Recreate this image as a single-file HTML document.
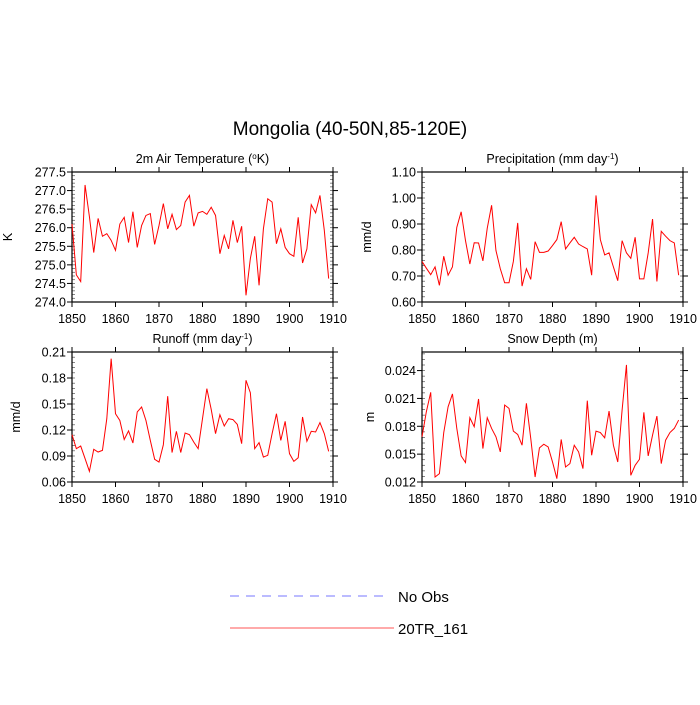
<!DOCTYPE html>
<html><head><meta charset="utf-8"><style>
body{margin:0;background:#fff;}
svg text{font-family:"Liberation Sans",Arial,sans-serif;fill:#000;}
</style></head><body>
<svg id="chart" width="700" height="700" viewBox="0 0 700 700" xmlns="http://www.w3.org/2000/svg">
<rect width="700" height="700" fill="#fff"/>
<text x="350" y="135" font-size="19" text-anchor="middle">Mongolia (40-50N,85-120E)</text>
<g id="panels"></g>
<g>
<line x1="230" y1="596" x2="386" y2="596" stroke="#7777ff" stroke-width="1" stroke-dasharray="9,7"/>
<text x="398" y="602" font-size="15">No Obs</text>
<line x1="230" y1="628" x2="394" y2="628" stroke="#ff5555" stroke-width="1"/>
<text x="398" y="634" font-size="15">20TR_161</text>
</g>
</svg>
<script>
const years = [];
for (let y = 1850; y <= 1909; y++) years.push(y);
const xTicks = [1850,1860,1870,1880,1890,1900,1910];
const tempValues = [276.1,274.73,274.55,277.15,276.3,275.33,276.25,275.77,275.84,275.66,275.39,276.1,276.28,275.6,276.43,275.47,276.06,276.33,276.38,275.55,276.06,276.65,275.97,276.36,275.95,276.06,276.69,276.87,276.04,276.4,276.44,276.36,276.55,276.33,275.3,275.79,275.43,276.2,275.6,276.04,274.18,275.17,275.77,274.45,275.97,276.78,276.69,275.57,275.97,275.47,275.3,275.23,276.28,275.05,275.43,276.62,276.4,276.87,275.93,274.63];
const precipValues = [0.756,0.73,0.705,0.735,0.664,0.776,0.703,0.735,0.887,0.947,0.836,0.746,0.828,0.827,0.758,0.884,0.972,0.798,0.728,0.674,0.674,0.756,0.904,0.661,0.728,0.687,0.832,0.791,0.791,0.796,0.817,0.84,0.909,0.804,0.827,0.849,0.823,0.813,0.804,0.703,1.01,0.84,0.781,0.789,0.735,0.682,0.836,0.789,0.768,0.849,0.689,0.689,0.789,0.919,0.679,0.872,0.853,0.836,0.827,0.703];
const runoffValues = [0.1146,0.0985,0.1015,0.087,0.0723,0.0977,0.0946,0.0965,0.133,0.2023,0.1388,0.131,0.109,0.119,0.105,0.1408,0.1465,0.131,0.108,0.0862,0.083,0.103,0.159,0.094,0.1185,0.094,0.1165,0.1146,0.106,0.0985,0.133,0.1677,0.1438,0.1158,0.1377,0.1246,0.133,0.132,0.1265,0.1042,0.1773,0.163,0.0985,0.1054,0.0888,0.0908,0.1158,0.1388,0.108,0.13,0.0927,0.0838,0.088,0.135,0.107,0.1185,0.1177,0.1285,0.1158,0.0954];
const snowValues = [0.01687,0.01957,0.02166,0.01254,0.0129,0.01733,0.0201,0.02148,0.01777,0.01481,0.01409,0.01892,0.01795,0.02094,0.0156,0.01892,0.01777,0.01687,0.01524,0.02029,0.01993,0.01748,0.01712,0.01596,0.02047,0.01669,0.01254,0.01568,0.01607,0.01578,0.01416,0.01236,0.01658,0.01362,0.01398,0.01596,0.01524,0.01344,0.02076,0.01488,0.01748,0.01733,0.01676,0.01964,0.01596,0.01416,0.01975,0.02461,0.01272,0.0138,0.01445,0.0195,0.01481,0.01705,0.0191,0.01398,0.0165,0.01733,0.01777,0.01867];
const tempTicks = ["274.0","274.5","275.0","275.5","276.0","276.5","277.0","277.5"];
const precipTicks = ["0.60","0.70","0.80","0.90","1.00","1.10"];
const runoffTicks = ["0.06","0.09","0.12","0.15","0.18","0.21"];
const snowTicks = ["0.012","0.015","0.018","0.021","0.024"];

const NS = "http://www.w3.org/2000/svg";
const root = document.getElementById('panels');
function mk(tag, attrs, parent){const e=document.createElementNS(NS,tag);for(const k in attrs)e.setAttribute(k,attrs[k]);parent.appendChild(e);return e;}

function panel(cfg){
  const g = mk('g',{},root);
  
  
  const L=cfg.x0,R=cfg.x1,T=cfg.y0,B=cfg.y1;
  const xs = v => L + (v-1850)/(1910-1850)*(R-L);
  const ys = v => B - (v-cfg.ymin)/(cfg.ymax-cfg.ymin)*(B-T);
  // title
  const t = mk('text',{x:(L+R)/2,y:T-9,'font-size':12.5,'text-anchor':'middle'},g);
  
  
  t.innerHTML = cfg.title;
  // y axis title
  const yt = mk('text',{x:0,y:0,'font-size':12.5,'text-anchor':'middle',transform:`translate(${cfg.ytx},${(T+B)/2}) rotate(-90)`},g);
  
  
  yt.textContent = cfg.ytitle;
  // y ticks
  const step = (cfg.ticks.length>1)? (parseFloat(cfg.ticks[1])-parseFloat(cfg.ticks[0])):1;
  cfg.ticks.forEach(lbl=>{
    const v=parseFloat(lbl), y=ys(v);
    mk('line',{x1:L-5,y1:y,x2:L,y2:y,stroke:'#000'},g);
    mk('line',{x1:R,y1:y,x2:R+5,y2:y,stroke:'#000'},g);
    const tx = mk('text',{x:L-6,y:y+4.5,'font-size':12.5,'text-anchor':'end'},g);
    
    
    tx.textContent = lbl;
  });
  const minor = step/5;
  for(let v=cfg.ymin; v<=cfg.ymax+1e-9; v+=minor){
    const y=ys(v);
    mk('line',{x1:L,y1:y,x2:L+3,y2:y,stroke:'#555','stroke-width':0.7},g);
    mk('line',{x1:R-3,y1:y,x2:R,y2:y,stroke:'#555','stroke-width':0.7},g);
  }
  // x ticks
  xTicks.forEach(v=>{
    const x=xs(v);
    mk('line',{x1:x,y1:B,x2:x,y2:B+5,stroke:'#000'},g);
    mk('line',{x1:x,y1:T-5,x2:x,y2:T,stroke:'#000'},g);
    const tx = mk('text',{x:x,y:B+21,'font-size':12.5,'text-anchor':'middle'},g);
    
    
    tx.textContent = v;
  });
  // frame
  const fr = mk('rect',{x:L,y:T,width:R-L,height:B-T,fill:'none',stroke:'#000','stroke-width':1.2},g);
  
  
  // series
  const pts = cfg.values.map((v,i)=>xs(years[i]).toFixed(2)+','+ys(v).toFixed(2)).join(' ');
  const pl = mk('polyline',{points:pts,fill:'none',stroke:'#ff0000','stroke-width':1},g);
  
  
}
panel({name:'air-temperature-panel',title:'2m Air Temperature (<tspan baseline-shift="super" font-size="8">o</tspan>K)',ytitle:'K',ytx:12,x0:72,x1:333,y0:172,y1:302,ymin:274,ymax:277.5,ticks:tempTicks,values:tempValues});
panel({name:'precipitation-panel',title:'Precipitation (mm day<tspan baseline-shift="super" font-size="8">-1</tspan>)',ytitle:'mm/d',ytx:371,x0:422,x1:683,y0:172,y1:302,ymin:0.6,ymax:1.1,ticks:precipTicks,values:precipValues});
panel({name:'runoff-panel',title:'Runoff (mm day<tspan baseline-shift="super" font-size="8">-1</tspan>)',ytitle:'mm/d',ytx:20,x0:72,x1:333,y0:352,y1:482,ymin:0.06,ymax:0.21,ticks:runoffTicks,values:runoffValues});
panel({name:'snow-depth-panel',title:'Snow Depth (m)',ytitle:'m',ytx:374,x0:422,x1:683,y0:352,y1:482,ymin:0.012,ymax:0.026,ticks:snowTicks,values:snowValues});
</script>
</body></html>
